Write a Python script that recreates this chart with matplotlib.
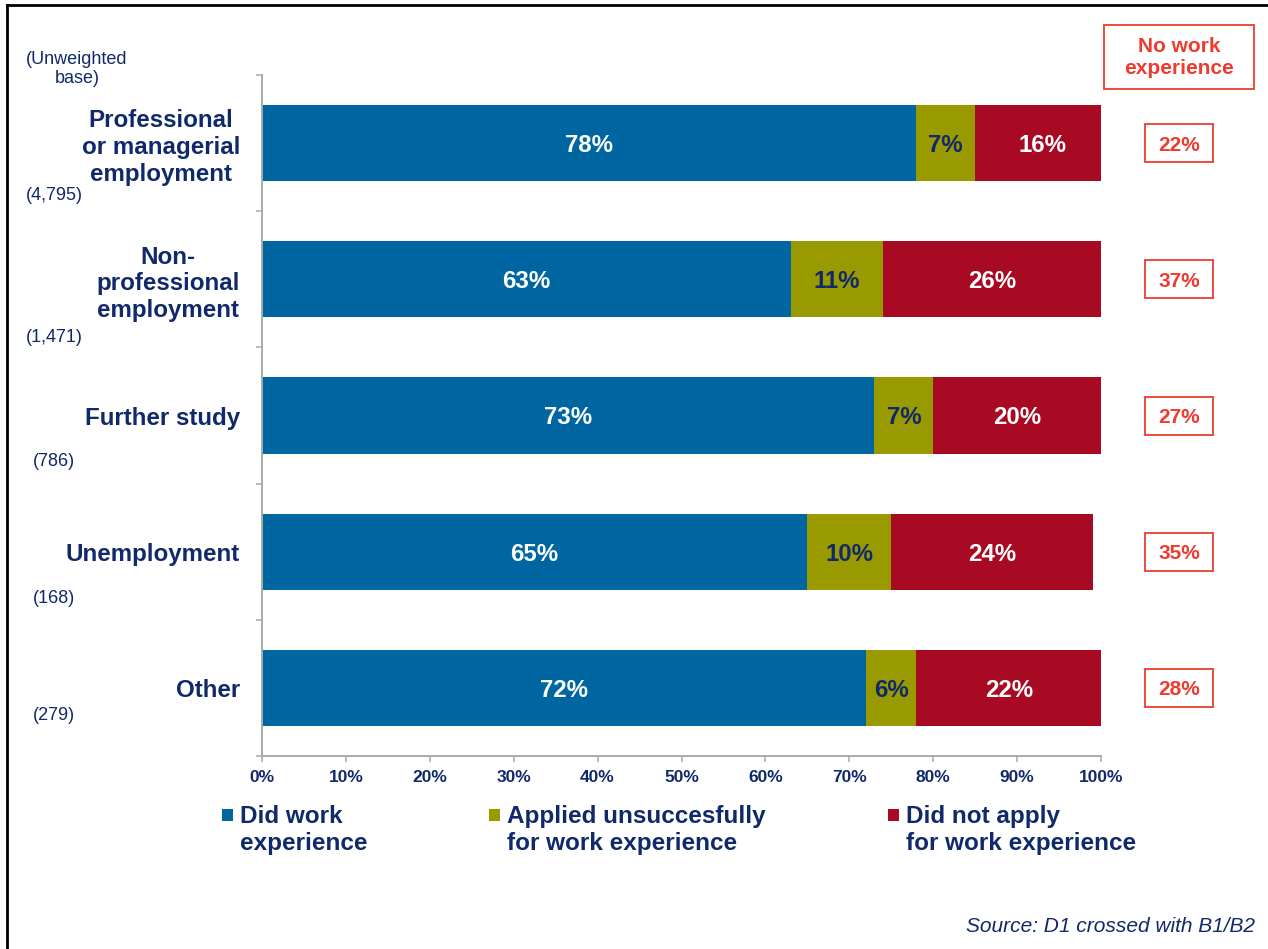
import matplotlib
matplotlib.use('Agg')
import matplotlib.pyplot as plt
from matplotlib.patches import Rectangle
from matplotlib.lines import Line2D
from matplotlib.transforms import blended_transform_factory

plt.rcParams['font.family'] = ['Liberation Sans', 'DejaVu Sans']

# ---- data ----
categories = ['Professional\nor managerial\nemployment',
              'Non-\nprofessional\nemployment',
              'Further study',
              'Unemployment',
              'Other']
bases = ['(4,795)', '(1,471)', '(786)', '(168)', '(279)']
did_work = [78, 63, 73, 65, 72]
applied_unsuccessfully = [7, 11, 7, 10, 6]
did_not_apply = [16, 26, 20, 24, 22]
no_work_experience = [22, 37, 27, 35, 28]
series_names = ['Did work\nexperience',
                'Applied unsuccesfully\nfor work experience',
                'Did not apply\nfor work experience']
x_ticks = list(range(0, 101, 10))

# ---- style ----
NAVY = '#10296B'
BLUE = '#0066A1'
OLIVE = '#999900'
RED = '#A70A22'
BOXRED = '#EE3B2E'
GREY = '#A4ACAC'

W, H = 1268, 949
fig = plt.figure(figsize=(W / 100, H / 100), dpi=100)
ax = fig.add_axes([262 / W, 1 - 756 / H, (1101 - 262) / W, (756 - 75) / H])

n = len(categories)
y = [i + 0.5 for i in range(n)]
bar_h = 0.56

series = [did_work, applied_unsuccessfully, did_not_apply]
colors = [BLUE, OLIVE, RED]
text_colors = ['white', NAVY, 'white']

# stacked bars (rounded shares may exceed 100%; the axis stops at 100%)
lefts = [0] * n
for vals, col, tcol in zip(series, colors, text_colors):
    ax.barh(y, vals, height=bar_h, left=lefts, color=col, edgecolor='none')
    for yi, l, v in zip(y, lefts, vals):
        ax.text(l + v / 2, yi, f'{v}%', ha='center', va='center_baseline',
                fontsize=17.3, fontweight='bold', color=tcol)
    lefts = [l + v for l, v in zip(lefts, vals)]

ax.set_xlim(0, 100)
ax.set_ylim(n, 0)

for s in ('top', 'right'):
    ax.spines[s].set_visible(False)
for s in ('left', 'bottom'):
    ax.spines[s].set_color(GREY)
    ax.spines[s].set_linewidth(1.4)

ax.set_xticks(x_ticks)
ax.set_xticklabels([f'{v}%' for v in x_ticks], fontsize=12.5,
                   fontweight='bold', color=NAVY)
ax.tick_params(axis='x', length=4.3, width=1.1, color=GREY, pad=6)

ax.set_yticks(range(n + 1))
ax.set_yticklabels([])
ax.tick_params(axis='y', which='major', length=4.3, width=1.1, color=GREY)
ax.set_yticks(y, minor=True)
ax.set_yticklabels(categories, minor=True, fontsize=17.4, fontweight='bold',
                   color=NAVY, linespacing=1.2)
ax.tick_params(axis='y', which='minor', length=0, pad=15.8)
for lbl in ax.get_yticklabels(minor=True):
    lbl.set_multialignment('center')

# unweighted bases beside each category
trans = blended_transform_factory(fig.transFigure, ax.transData)
base_y = [0.888, 1.924, 2.841, 3.840, 4.706]
for b, by in zip(bases, base_y):
    ax.text(54 / W, by, b, transform=trans, ha='center', va='center',
            fontsize=13, color=NAVY, clip_on=False)
fig.text(77 / W, 1 - 69 / H, '(Unweighted\nbase)', ha='center', va='center',
         fontsize=13, color=NAVY, linespacing=1.2)

# "No work experience" column
fig.patches.append(Rectangle((1104 / W, 1 - 89 / H), 150 / W, 64 / H,
                             transform=fig.transFigure, fill=False,
                             edgecolor=BOXRED, linewidth=1.3))
fig.text(1179 / W, 1 - 58 / H, 'No work\nexperience', ha='center', va='center',
         fontsize=15, fontweight='bold', color=BOXRED, linespacing=1.2)
box_h = 38 / 136.2
for yi, v in zip(y, no_work_experience):
    ax.add_patch(Rectangle((1145 / W, yi - box_h / 2), 68 / W, box_h,
                           transform=trans, fill=False, edgecolor=BOXRED,
                           linewidth=1.3, clip_on=False))
    ax.text(1179 / W, yi, f'{v}%', transform=trans, ha='center',
            va='center_baseline', fontsize=15, fontweight='bold',
            color=BOXRED, clip_on=False)

# legend
leg_x = [222, 489, 888]
for lx, name, col in zip(leg_x, series_names, colors):
    fig.patches.append(Rectangle((lx / W, 1 - 821 / H), 11 / W, 12 / H,
                                 transform=fig.transFigure, facecolor=col,
                                 edgecolor='none'))
    fig.text((lx + 18) / W, 1 - 830 / H, name, ha='left', va='center',
             fontsize=17.5, fontweight='bold', color=NAVY, linespacing=1.17)

fig.text(1255 / W, 1 - 926 / H, 'Source: D1 crossed with B1/B2', ha='right',
         va='center', fontsize=15, style='italic', color=NAVY)

# outer frame (left and top edges)
fig.lines.append(Line2D([7 / W, 7 / W], [0, 1 - 5 / H], transform=fig.transFigure,
                        color='black', linewidth=2))
fig.lines.append(Line2D([7 / W, 1], [1 - 5 / H, 1 - 5 / H], transform=fig.transFigure,
                        color='black', linewidth=2))

fig.savefig('out.png', dpi=100)
